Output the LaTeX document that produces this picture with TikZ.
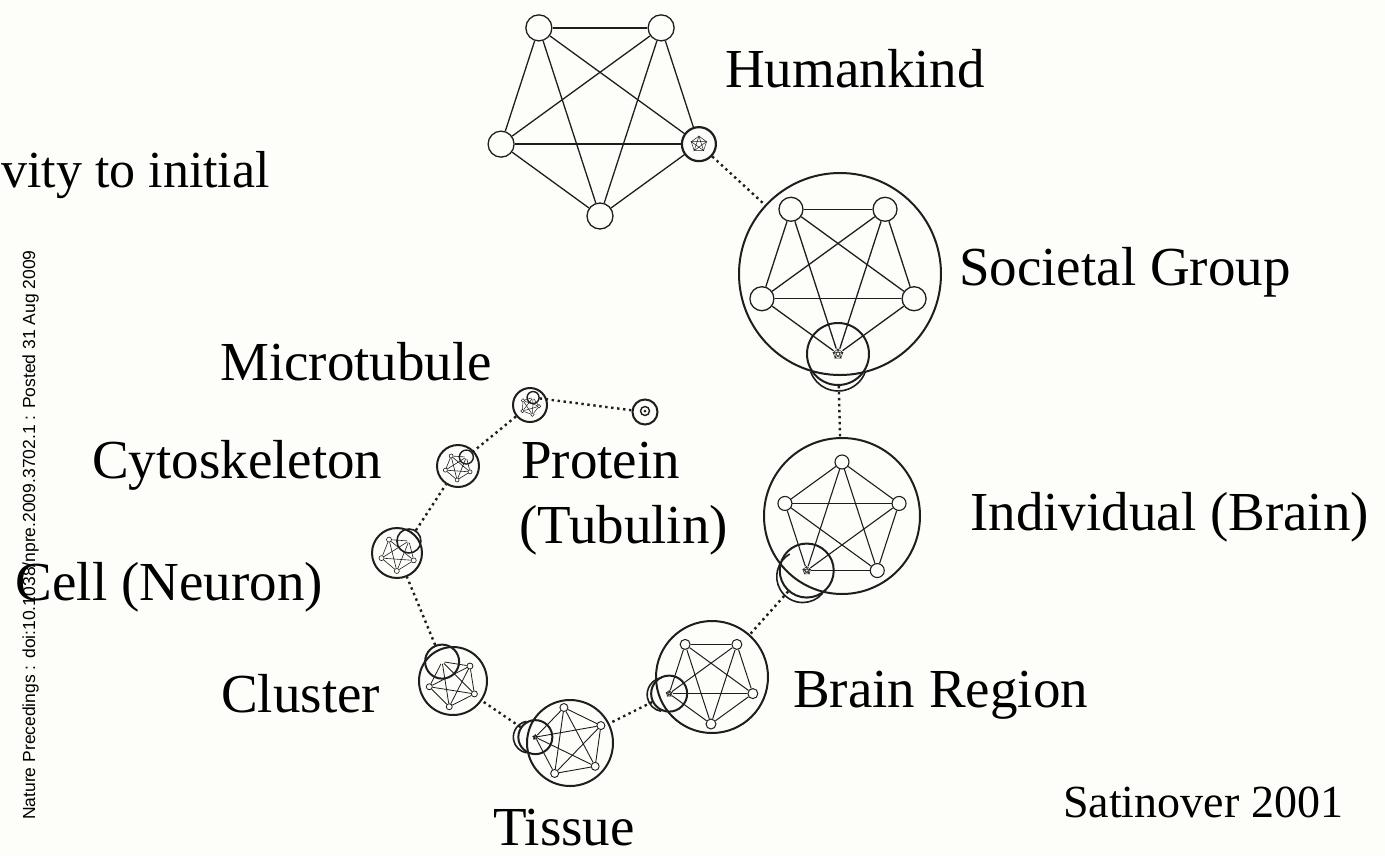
\documentclass[tikz,border=0pt]{standalone}
\usepackage{fontspec}
\setmainfont{Liberation Serif}
\newfontfamily\stampfont{Liberation Sans}
\usetikzlibrary{calc}
\definecolor{paper}{RGB}{253,253,250}
\definecolor{ink}{RGB}{30,30,30}
\tikzset{
  vtx/.style={circle, draw=ink, inner sep=0pt},
  hub/.style={circle, inner sep=0pt},
  kline/.style={draw=ink},
  shell/.style={circle, draw=ink, line width=2pt, inner sep=0pt},
  halo/.style={draw=ink, line width=1.6pt},
  link/.style={draw=ink, line width=2.4pt, dash pattern=on 2.4pt off 3.6pt},
  fine/.style={draw=ink, line width=0.5pt},
  tag/.style={anchor=base west, inner sep=0pt, font=\fontsize{55}{60}\selectfont},
}
% complete graph on five vertices, vertex 1 is the nested one
\newcommand{\kfive}[6]{%
  \node[hub, minimum size=#6] (#11) at ($(#2)+(#4:#3)$) {};
  \foreach \k in {2,...,5}
    \node[vtx, minimum size=#5] (#1\k) at ($(#2)+({#4+72*(\k-1)}:#3)$) {};
  \foreach \i/\j in {1/2,1/3,1/4,1/5,2/3,2/4,2/5,3/4,3/5,4/5}
    \draw[kline] (#1\i) -- (#1\j);
}
% tiny star inside a nested vertex
\newcommand{\speck}[2]{%
  \draw[fine] ($(#1)+(90:#2)$) \foreach \a in {1,...,4} { -- ($(#1)+({90+144*\a}:#2)$) } -- cycle;
  \draw[fine] ($(#1)+(90:#2)$) \foreach \a in {1,...,4} { -- ($(#1)+({90+72*\a}:#2)$) } -- cycle;
}
\begin{document}
\begin{tikzpicture}[x=1pt, y=-1pt]
\fill[paper] (0,0) rectangle (1385,855);
\useasboundingbox (0,0) rectangle (1385,855);

% Humankind
\begin{scope}[line width=1.3pt]
  \kfive{hk}{600,112}{104pt}{-18}{26pt}{34pt}
\end{scope}
\node[shell, line width=2.2pt, minimum size=34pt] (hkn) at (hk1) {};
\speck{hk1}{8pt}

% Societal Group
\node[shell, minimum size=202pt] (sg) at (840,274) {};
\begin{scope}[line width=1.3pt]
  \kfive{sg}{838,274}{80pt}{-90}{24pt}{10pt}
\end{scope}
\node[shell, minimum size=62pt] (sgn) at (sg1) {};
\draw[halo] ($(sg1)+(0,8)+(200:29pt)$) arc[start angle=200, end angle=340, radius=29pt];
\speck{sg1}{5pt}

% Individual (Brain)
\node[shell, minimum size=156pt] (ib) at (842,516) {};
\begin{scope}[line width=1.1pt]
  \kfive{ib}{842,522}{60pt}{234}{14pt}{8pt}
\end{scope}
\node[shell, minimum size=54pt] (ibn) at (ib1) {};
\draw[halo] ($(ib1)+(-4,6)+(120:26pt)$) arc[start angle=120, end angle=320, radius=26pt];
\speck{ib1}{4pt}

% Brain Region
\node[shell, minimum size=112pt] (br) at (712,677) {};
\begin{scope}[line width=1pt]
  \kfive{br}{711,680}{44pt}{198}{10pt}{6pt}
\end{scope}
\node[shell, minimum size=36pt] (brn) at (br1) {};
\draw[halo] ($(br1)+(-5,1)+(100:17pt)$) arc[start angle=100, end angle=260, radius=17pt];
\speck{br1}{3pt}

% Tissue
\node[shell, minimum size=86pt] (ts) at (570,743) {};
\begin{scope}[line width=0.9pt]
  \kfive{ts}{570,742}{35pt}{172}{8pt}{5pt}
\end{scope}
\node[shell, minimum size=34pt] (tsn) at (ts1) {};
\draw[halo] ($(ts1)+(-6,0)+(100:16pt)$) arc[start angle=100, end angle=260, radius=16pt];
\speck{ts1}{2.5pt}

% Cluster
\node[shell, minimum size=68pt] (cl) at (453,681) {};
\begin{scope}[line width=0.8pt]
  \kfive{cl}{453,683}{24pt}{117}{6pt}{4pt}
\end{scope}
\node[shell, minimum size=34pt] (cln) at (cl1) {};

% Cell (Neuron)
\node[shell, minimum size=50pt] (ce) at (397,553) {};
\begin{scope}[line width=0.6pt]
  \kfive{ce}{398,554}{17pt}{50}{5pt}{3pt}
\end{scope}
\node[shell, line width=1.6pt, minimum size=24pt] (cen) at (ce1) {};

% Cytoskeleton
\node[shell, minimum size=42pt] (cy) at (458,466) {};
\begin{scope}[line width=0.6pt]
  \kfive{cy}{458,467}{13pt}{50}{4pt}{3pt}
\end{scope}
\node[shell, line width=1.4pt, minimum size=14pt] (cyn) at (cy1) {};

% Microtubule
\node[shell, minimum size=34pt] (mt) at (530,405) {};
\begin{scope}[line width=0.5pt]
  \kfive{mt}{530,406}{9pt}{70}{3.5pt}{2.5pt}
\end{scope}
\node[shell, line width=1.4pt, minimum size=12pt] (mtn) at (mt1) {};

% Protein
\node[shell, minimum size=25pt] (pt) at (645,412) {};
\node[shell, line width=1.4pt, minimum size=9pt] (ptn) at (645,411) {};
\fill[ink] (ptn) circle (1.5pt);

% dotted zoom links
\draw[link] (hkn) -- (sg);
\draw[link] (sgn) -- (ib);
\draw[link] (ibn) -- (br);
\draw[link] (brn) -- (ts);
\draw[link] (tsn) -- (cl);
\draw[link] (cln) -- (ce);
\draw[link] (cen) -- (cy);
\draw[link] (cyn) -- (mt);
\draw[link] (mtn) -- (pt);

% labels
\node[tag] (lhk) at (725,87) {Humankind};
\node[tag] (lsg) at (959,285) {Societal Group};
\node[tag] (lib) at (970,530) {Individual (Brain)};
\node[tag] (lbr) at (793,707) {Brain Region};
\node[tag] (lts) at (493,845) {Tissue};
\node[tag] (lcl) at (221,712) {Cluster};
\node[tag, anchor=base east] (lce) at (323,600) {Cell (Neuron)};
\node[tag] (lcy) at (92,478) {Cytoskeleton};
\node[tag] (lmt) at (220,380) {Microtubule};
\node[tag] (lpt) at (521,478) {Protein};
\node[tag] (ltb) at (519,543) {(Tubulin)};
\node[tag, font=\fontsize{46}{50}\selectfont] (src) at (1063,817) {Satinover 2001};
\node[tag, font=\fontsize{52}{56}\selectfont] (top) at (1,187) {vity to initial};
\node[anchor=base west, inner sep=0pt, rotate=90, font=\stampfont\fontsize{17.5}{20}\selectfont]
  (stamp) at (35,820) {Nature Precedings : doi:10.1038/npre.2009.3702.1 : Posted 31 Aug 2009};
\end{tikzpicture}
\end{document}
